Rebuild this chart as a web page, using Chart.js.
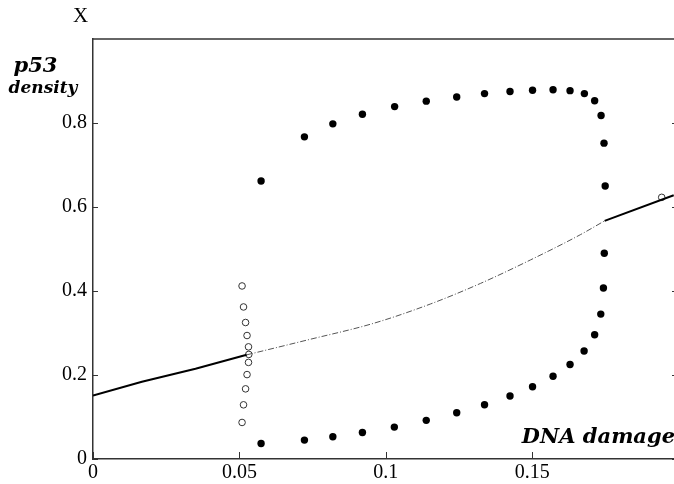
<!DOCTYPE html>
<html>
<head>
<meta charset="utf-8">
<script src="https://cdn.jsdelivr.net/npm/chart.js@4/dist/chart.umd.min.js"></script>
<style>
html,body{margin:0;padding:0;background:#fff;overflow:hidden;}
#wrap{position:relative;width:674px;height:484px;overflow:hidden;}
</style>
</head>
<body>
<div id="wrap"><canvas id="c" width="679" height="484"></canvas></div>
<script>
// ---- data ----
const xTicks = [0, 0.05, 0.1, 0.15];
const xTickLabels = ["0", "0.05", "0.1", "0.15"];
const yTicks = [0, 0.2, 0.4, 0.6, 0.8];
const yTickLabels = ["0", "0.2", "0.4", "0.6", "0.8"];

// stable steady state, low branch (solid)
const stableLowX = [0, 0.0167, 0.035, 0.0525];
const stableLowY = [0.151, 0.184, 0.215, 0.248];
// unstable steady state (dash-dot)
const unstableX = [0.0525, 0.073, 0.0958, 0.1152, 0.1323, 0.1494, 0.1664, 0.1747];
const unstableY = [0.248, 0.283, 0.323, 0.369, 0.418, 0.474, 0.534, 0.567];
// stable steady state, high branch (solid)
const stableHighX = [0.1747, 0.1983];
const stableHighY = [0.567, 0.628];

// stable limit cycle, maxima (filled dots)
const cycleMaxX = [0.0574, 0.0722, 0.0819, 0.0920, 0.1030, 0.1138, 0.1242, 0.1337, 0.1424, 0.1501, 0.1571, 0.1629, 0.1678, 0.1713, 0.1735, 0.1745, 0.1749];
const cycleMaxY = [0.662, 0.767, 0.798, 0.821, 0.839, 0.852, 0.862, 0.870, 0.875, 0.878, 0.879, 0.877, 0.870, 0.853, 0.818, 0.752, 0.650];
// stable limit cycle, minima (filled dots)
const cycleMinX = [0.1746, 0.1743, 0.1734, 0.1713, 0.1677, 0.1629, 0.1571, 0.1501, 0.1424, 0.1337, 0.1242, 0.1138, 0.1029, 0.0920, 0.0819, 0.0722, 0.0574];
const cycleMinY = [0.490, 0.407, 0.345, 0.296, 0.257, 0.225, 0.197, 0.172, 0.150, 0.129, 0.110, 0.092, 0.076, 0.063, 0.053, 0.045, 0.037];
// unstable limit cycle (open circles)
const openX = [0.0509, 0.0514, 0.0521, 0.0526, 0.0531, 0.0532, 0.0531, 0.0526, 0.0521, 0.0514, 0.0509, 0.1942];
const openY = [0.412, 0.362, 0.325, 0.294, 0.267, 0.249, 0.230, 0.201, 0.167, 0.129, 0.087, 0.623];

const zip = (xs, ys) => xs.map((x, i) => ({x: x, y: ys[i]}));

const AXIS_COLOR = '#333';

const decor = {
  id: 'decor',
  afterDraw(chart) {
    const ctx = chart.ctx;
    const a = chart.chartArea;
    const xs = chart.scales.x, ys = chart.scales.y;
    ctx.save();
    ctx.strokeStyle = AXIS_COLOR;
    ctx.lineWidth = 1.5;
    // top frame line
    ctx.beginPath();
    ctx.moveTo(a.left, a.top);
    ctx.lineTo(chart.width, a.top);
    ctx.stroke();
    // inward ticks
    ctx.lineWidth = 1;
    ctx.beginPath();
    xTicks.forEach(v => {
      const px = Math.round(xs.getPixelForValue(v)) + 0.5;
      ctx.moveTo(px, a.bottom);
      ctx.lineTo(px, a.bottom - 7);
    });
    yTicks.forEach(v => {
      const py = Math.round(ys.getPixelForValue(v)) + 0.5;
      ctx.moveTo(a.left, py);
      ctx.lineTo(a.left + 5, py);
      ctx.moveTo(a.right, py);
      ctx.lineTo(a.right - 2, py);
    });
    ctx.stroke();
    // texts
    ctx.fillStyle = '#000';
    ctx.textBaseline = 'alphabetic';
    ctx.textAlign = 'center';
    ctx.font = '21px "Liberation Serif"';
    ctx.fillText('X', 80.5, 22);
    ctx.font = 'italic bold 21px "DejaVu Serif"';
    ctx.fillText('p53', 35.5, 72);
    ctx.font = 'italic bold 17px "DejaVu Serif"';
    ctx.fillText('density', 43, 93);
    ctx.textAlign = 'right';
    ctx.font = 'italic bold 21px "DejaVu Serif"';
    ctx.fillText('DNA damage', 675, 443);
    ctx.restore();
  }
};

new Chart(document.getElementById('c'), {
  type: 'scatter',
  data: {
    datasets: [
      {label: 'stable low', data: zip(stableLowX, stableLowY), showLine: true, borderColor: '#000', borderWidth: 2, pointRadius: 0, fill: false},
      {label: 'unstable', data: zip(unstableX, unstableY), showLine: true, borderColor: '#555', borderWidth: 1, borderDash: [6, 2, 1, 2], pointRadius: 0, fill: false, cubicInterpolationMode: 'monotone'},
      {label: 'stable high', data: zip(stableHighX, stableHighY), showLine: true, borderColor: '#000', borderWidth: 2, pointRadius: 0, fill: false},
      {label: 'cycle max', data: zip(cycleMaxX, cycleMaxY), showLine: false, pointRadius: 3.7, pointBackgroundColor: '#000', pointBorderColor: '#000', pointBorderWidth: 0},
      {label: 'cycle min', data: zip(cycleMinX, cycleMinY), showLine: false, pointRadius: 3.7, pointBackgroundColor: '#000', pointBorderColor: '#000', pointBorderWidth: 0},
      {label: 'unstable cycle', data: zip(openX, openY), showLine: false, pointRadius: 3.3, pointBackgroundColor: 'rgba(255,255,255,0)', pointBorderColor: '#333', pointBorderWidth: 1}
    ]
  },
  options: {
    responsive: false,
    animation: false,
    devicePixelRatio: 1,
    layout: {padding: {top: 39, right: 0, left: 0, bottom: 0}},
    plugins: {legend: {display: false}, tooltip: {enabled: false}, title: {display: false}},
    scales: {
      x: {
        type: 'linear', min: 0, max: 0.1984,
        grid: {display: false, drawTicks: false},
        border: {display: true, color: AXIS_COLOR, width: 1.5},
        ticks: {padding: 2, color: '#000', font: {family: '"Liberation Serif"', size: 20},
          callback: (v) => { const i = xTicks.findIndex(t => Math.abs(t - v) < 1e-9); return i >= 0 ? xTickLabels[i] : ''; }},
        afterBuildTicks: (s) => { s.ticks = xTicks.map(v => ({value: v})); },
        afterFit: (s) => { s.height = 25; s.paddingLeft = 0; s.paddingRight = 0; }
      },
      y: {
        type: 'linear', min: 0, max: 1,
        grid: {display: false, drawTicks: false},
        border: {display: true, color: AXIS_COLOR, width: 1.5},
        ticks: {padding: 6, color: '#000', font: {family: '"Liberation Serif"', size: 20},
          callback: (v) => { const i = yTicks.findIndex(t => Math.abs(t - v) < 1e-9); return i >= 0 ? yTickLabels[i] : ''; }},
        afterBuildTicks: (s) => { s.ticks = yTicks.map(v => ({value: v})); },
        afterFit: (s) => { s.width = 93; s.paddingTop = 0; s.paddingBottom = 0; }
      }
    }
  },
  plugins: [decor]
});
</script>
</body>
</html>
